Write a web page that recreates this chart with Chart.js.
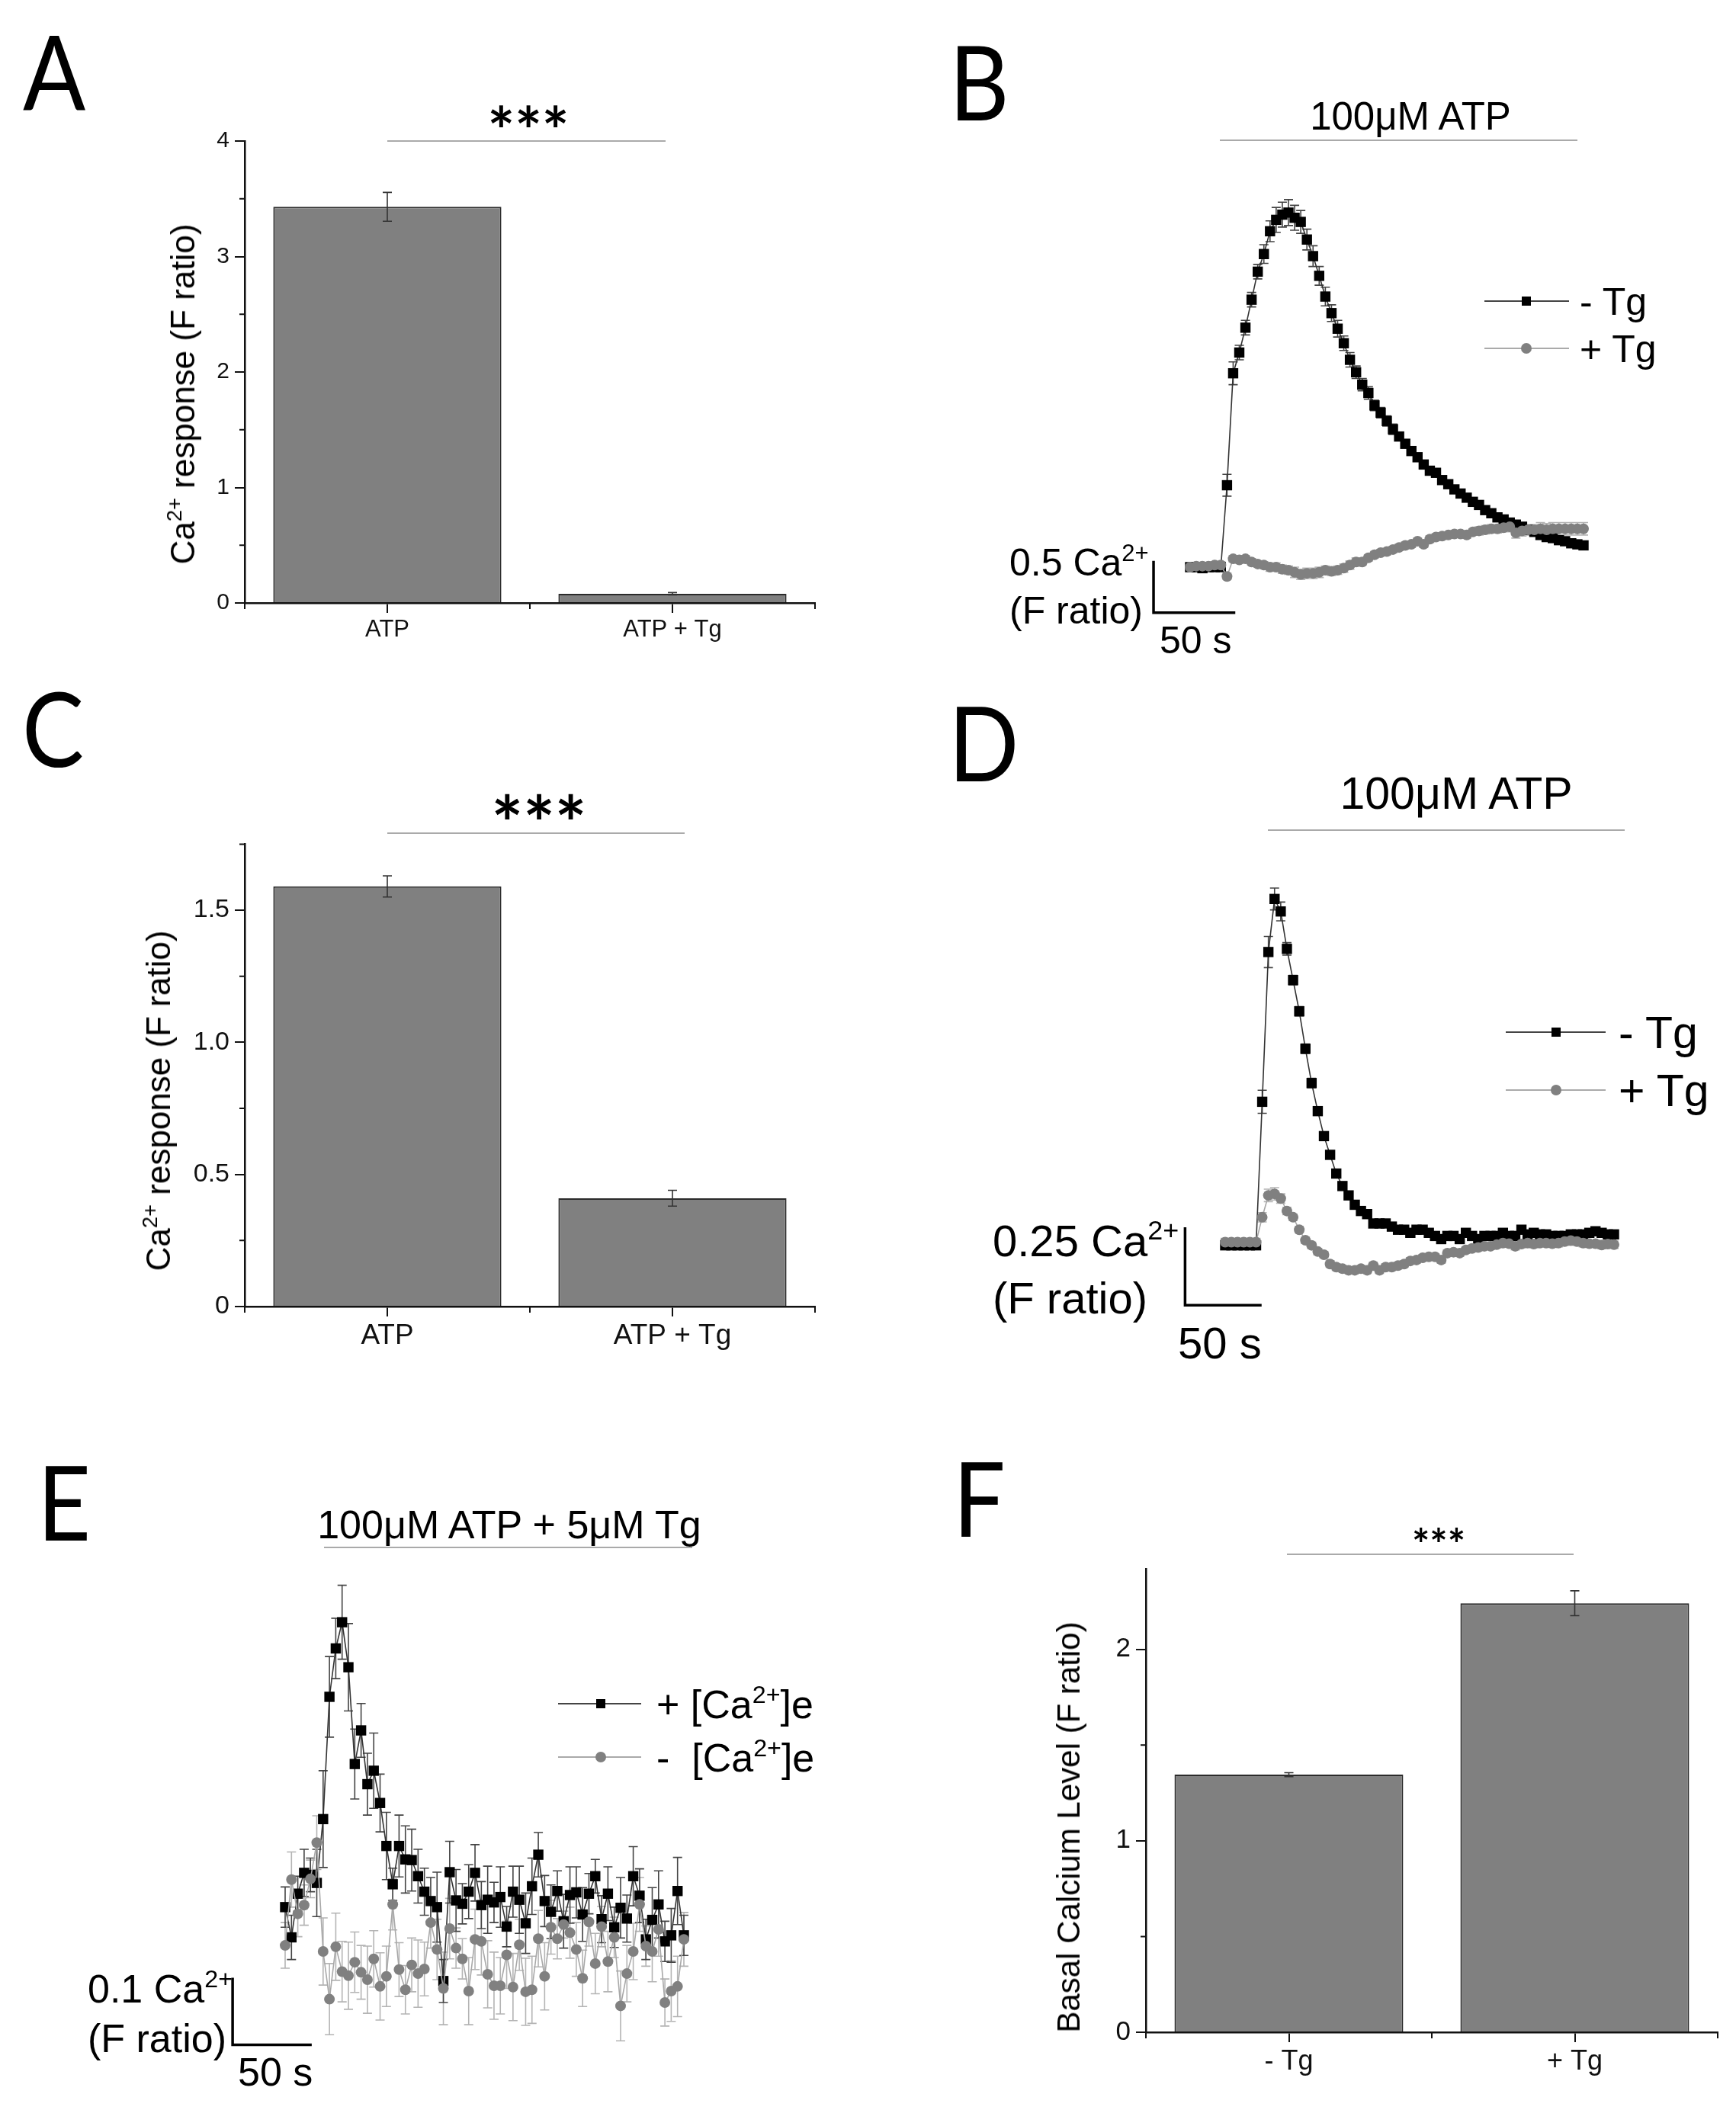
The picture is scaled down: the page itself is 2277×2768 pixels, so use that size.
<!DOCTYPE html>
<html>
<head>
<meta charset="utf-8">
<script src="https://cdn.jsdelivr.net/npm/chart.js@4"></script>
<style>
  html, body { margin: 0; background: #fff; }
  #page { position: relative; width: 2277px; height: 2768px; overflow: hidden; font-family: "Liberation Sans", Arial, sans-serif; color: #000; }
  canvas { position: absolute; }
  .t { position: absolute; white-space: pre; line-height: 1; }
  .t sup { font-size: .62em; line-height: 0; vertical-align: .62em; }
  .rule { position: absolute; height: 2px; background: #aaa; }
</style>
</head>
<body>
<div id="page"></div>
<script>
// bar panels
const catsAtp = ["ATP", "ATP + Tg"];
const catsTg = ["- Tg", "+ Tg"];
const valsA = [3.43, 0.08];
const errsA = [0.125, 0.01];
const valsC = [1.59, 0.41];
const errsC = [0.04, 0.03];
const valsF = [1.345, 2.24];
const errsF = [0.01, 0.065];
const minorA = [0.5, 1.5, 2.5, 3.5];
const minorC = [0.25, 0.75, 1.25, 1.75];
const minorF = [0.5, 1.5];

// panel B traces, F ratio above baseline
const bNoTg = [0, 0, -0.01, 0, 0, 0, 0.79, 1.87, 2.07, 2.31, 2.58, 2.85, 3.02, 3.24, 3.35, 3.40, 3.42, 3.37, 3.33, 3.16, 3.00, 2.81, 2.61, 2.45, 2.30, 2.16, 2.00, 1.88, 1.76, 1.68, 1.56, 1.49, 1.41, 1.33, 1.26, 1.19, 1.12, 1.06, 0.99, 0.93, 0.91, 0.84, 0.80, 0.75, 0.71, 0.67, 0.63, 0.60, 0.55, 0.52, 0.48, 0.46, 0.43, 0.41, 0.39, 0.36, 0.34, 0.31, 0.29, 0.28, 0.26, 0.25, 0.23, 0.22, 0.21];
const bTg = [0, 0.01, 0.01, 0.01, 0.02, 0.02, -0.09, 0.08, 0.07, 0.08, 0.05, 0.03, 0.02, 0, 0, -0.02, -0.03, -0.05, -0.07, -0.06, -0.06, -0.05, -0.03, -0.04, -0.03, -0.01, 0.02, 0.05, 0.05, 0.09, 0.12, 0.14, 0.15, 0.17, 0.19, 0.21, 0.22, 0.25, 0.22, 0.27, 0.29, 0.30, 0.31, 0.32, 0.32, 0.31, 0.34, 0.35, 0.36, 0.37, 0.37, 0.38, 0.39, 0.33, 0.35, 0.36, 0.36, 0.37, 0.36, 0.37, 0.37, 0.37, 0.37, 0.37, 0.37];
const bNoTgErr = [0.02, 0.02, 0.02, 0.02, 0.02, 0.02, 0.105, 0.11, 0.07, 0.07, 0.07, 0.07, 0.09, 0.10, 0.12, 0.12, 0.125, 0.12, 0.11, 0.10, 0.10, 0.09, 0.09, 0.08, 0.08, 0.07, 0.07, 0.06, 0.06, 0.06, 0.05, 0.05, 0.05, 0.05, 0.04, 0.04, 0.04, 0.04, 0.04, 0.04, 0.03, 0.03, 0.03, 0.03, 0.03, 0.03, 0.03, 0.03, 0.03, 0.03, 0.03, 0.03, 0.03, 0.03, 0.03, 0.03, 0.03, 0.03, 0.03, 0.03, 0.03, 0.03, 0.03, 0.03, 0.03];
const bTgErr = [0.03, 0.03, 0.03, 0.03, 0.03, 0.03, 0.03, 0.03, 0.03, 0.03, 0.03, 0.03, 0.03, 0.04, 0.04, 0.04, 0.04, 0.05, 0.05, 0.05, 0.05, 0.05, 0.04, 0.04, 0.04, 0.04, 0.04, 0.04, 0.03, 0.03, 0.03, 0.03, 0.03, 0.03, 0.03, 0.03, 0.03, 0.03, 0.03, 0.03, 0.03, 0.03, 0.03, 0.03, 0.03, 0.03, 0.03, 0.04, 0.04, 0.04, 0.04, 0.04, 0.05, 0.05, 0.05, 0.05, 0.05, 0.06, 0.06, 0.06, 0.06, 0.06, 0.06, 0.06, 0.06];

// panel D traces
const dNoTg = [0, 0, 0, 0, 0, 0, 0.46, 0.94, 1.11, 1.07, 0.95, 0.85, 0.75, 0.63, 0.52, 0.43, 0.35, 0.29, 0.23, 0.19, 0.16, 0.13, 0.11, 0.10, 0.07, 0.07, 0.07, 0.06, 0.05, 0.05, 0.04, 0.05, 0.05, 0.04, 0.03, 0.02, 0.03, 0.03, 0.02, 0.04, 0.03, 0.02, 0.03, 0.03, 0.03, 0.04, 0.03, 0.03, 0.05, 0.035, 0.04, 0.035, 0.035, 0.03, 0.03, 0.03, 0.035, 0.035, 0.035, 0.04, 0.045, 0.04, 0.035, 0.035];
const dTg = [0.01, 0.01, 0.01, 0.01, 0.01, 0.01, 0.09, 0.16, 0.165, 0.15, 0.11, 0.09, 0.05, 0.016, 0, -0.02, -0.03, -0.06, -0.07, -0.075, -0.08, -0.08, -0.075, -0.08, -0.065, -0.08, -0.07, -0.07, -0.065, -0.06, -0.05, -0.047, -0.04, -0.037, -0.037, -0.047, -0.025, -0.022, -0.025, -0.015, -0.01, -0.007, -0.003, -0.003, 0.002, 0.007, 0.005, -0.003, 0.004, 0.007, 0.004, 0.007, 0.007, 0.005, 0.007, 0.012, 0.015, 0.012, 0.007, 0.005, 0.005, 0.001, 0.004, 0.002];
const dNoTgErr = [0.012, 0.012, 0.012, 0.012, 0.012, 0.012, 0.037, 0.05, 0.035, 0.03, 0.02, 0.015, 0.015, 0.015, 0.015, 0.012, 0.012, 0.012, 0.012, 0.01, 0.01, 0.01, 0.01, 0.01, 0.01, 0.01, 0.01, 0.01, 0.01, 0.01, 0.01, 0.01, 0.01, 0.01, 0.01, 0.01, 0.01, 0.01, 0.01, 0.01, 0.01, 0.01, 0.01, 0.01, 0.01, 0.01, 0.01, 0.012, 0.012, 0.012, 0.012, 0.012, 0.012, 0.012, 0.012, 0.012, 0.012, 0.012, 0.012, 0.012, 0.012, 0.012, 0.012, 0.012];
const dTgErr = [0.012, 0.012, 0.012, 0.012, 0.012, 0.012, 0.015, 0.02, 0.02, 0.015, 0.012, 0.01, 0.01, 0.01, 0.01, 0.01, 0.01, 0.01, 0.01, 0.01, 0.01, 0.01, 0.01, 0.01, 0.01, 0.01, 0.01, 0.01, 0.01, 0.01, 0.01, 0.01, 0.01, 0.01, 0.01, 0.01, 0.01, 0.01, 0.01, 0.01, 0.01, 0.01, 0.01, 0.01, 0.01, 0.01, 0.01, 0.012, 0.012, 0.012, 0.012, 0.012, 0.012, 0.012, 0.012, 0.012, 0.012, 0.012, 0.012, 0.012, 0.012, 0.012, 0.012, 0.012];

// panel E traces
const eCa = [0.068, 0.023, 0.088, 0.119, 0.116, 0.104, 0.199, 0.381, 0.453, 0.492, 0.425, 0.281, 0.331, 0.251, 0.271, 0.223, 0.159, 0.102, 0.159, 0.139, 0.138, 0.114, 0.091, 0.077, 0.068, -0.042, 0.120, 0.078, 0.073, 0.091, 0.119, 0.071, 0.079, 0.075, 0.083, 0.039, 0.091, 0.079, 0.044, 0.099, 0.146, 0.077, 0.061, 0.092, 0.047, 0.086, 0.090, 0.057, 0.088, 0.114, 0.050, 0.088, 0.038, 0.067, 0.051, 0.114, 0.085, 0.020, 0.049, 0.072, 0.017, 0.026, 0.092, 0.026];
const eNoCa = [0.011, 0.109, 0.058, 0.071, 0.110, 0.164, 0.002, -0.069, 0.009, -0.028, -0.034, -0.014, -0.029, -0.040, -0.009, -0.050, -0.035, 0.072, -0.025, -0.055, -0.018, -0.031, -0.024, 0.045, 0.005, -0.053, 0.036, 0.007, -0.009, -0.057, 0.020, 0.017, -0.032, -0.049, -0.049, -0.003, -0.051, 0.012, -0.058, -0.055, 0.021, -0.035, 0.038, 0.021, 0.042, 0.030, 0.005, -0.038, 0.046, -0.016, 0.039, -0.013, 0.023, -0.079, -0.031, 0.002, 0.072, 0.010, 0.002, 0.035, -0.074, -0.057, -0.050, 0.020];
const eCaErr = [0.03, 0.033, 0.026, 0.035, 0.025, 0.05, 0.072, 0.06, 0.045, 0.055, 0.065, 0.052, 0.04, 0.046, 0.056, 0.043, 0.05, 0.024, 0.046, 0.05, 0.046, 0.04, 0.035, 0.035, 0.052, 0.032, 0.046, 0.046, 0.03, 0.04, 0.042, 0.035, 0.05, 0.03, 0.045, 0.03, 0.038, 0.05, 0.045, 0.042, 0.033, 0.038, 0.04, 0.03, 0.04, 0.042, 0.038, 0.04, 0.03, 0.025, 0.035, 0.04, 0.03, 0.045, 0.035, 0.044, 0.04, 0.03, 0.048, 0.05, 0.03, 0.04, 0.05, 0.03];
const eNoCaErr = [0.034, 0.041, 0.034, 0.03, 0.028, 0.04, 0.05, 0.053, 0.05, 0.045, 0.05, 0.045, 0.04, 0.05, 0.042, 0.05, 0.045, 0.038, 0.04, 0.036, 0.04, 0.05, 0.04, 0.038, 0.045, 0.054, 0.045, 0.03, 0.03, 0.05, 0.045, 0.05, 0.05, 0.05, 0.042, 0.05, 0.05, 0.038, 0.05, 0.05, 0.042, 0.05, 0.04, 0.03, 0.02, 0.038, 0.04, 0.042, 0.036, 0.045, 0.03, 0.045, 0.03, 0.052, 0.042, 0.042, 0.04, 0.03, 0.045, 0.04, 0.035, 0.045, 0.045, 0.04];

const page = document.getElementById("page");

const marks = {
  id: "marks",
  beforeDatasetsDraw(chart) {
    if (chart.config.type === "line") drawErrs(chart);
  },
  afterDatasetsDraw(chart) {
    if (chart.config.type === "bar") drawErrs(chart);
  },
  afterDraw(chart, args, opts) {
    const c = chart.ctx, { x, y } = chart.scales;
    c.save();
    c.strokeStyle = "#111";
    c.lineWidth = 2;
    if (opts.minor) {
      // minor ticks
      c.beginPath();
      opts.minor.forEach(v => {
        const py = y.getPixelForValue(v);
        c.moveTo(x.left, py);
        c.lineTo(x.left - 7, py);
      });
      const mid = (x.getPixelForValue(0) + x.getPixelForValue(1)) / 2;
      [x.left, mid, x.right].forEach(px => {
        c.moveTo(px, y.bottom);
        c.lineTo(px, y.bottom + 8);
      });
      c.stroke();
    }
    if (opts.bar) {
      // calibration bars
      const b = opts.bar;
      c.lineWidth = 3.5;
      c.strokeStyle = "#000";
      c.beginPath();
      c.moveTo(x.getPixelForValue(b.x), y.getPixelForValue(b.y + b.dy));
      c.lineTo(x.getPixelForValue(b.x), y.getPixelForValue(b.y));
      c.lineTo(x.getPixelForValue(b.x + b.dx), y.getPixelForValue(b.y));
      c.stroke();
    }
    c.restore();
  }
};

function drawErrs(chart) {
  const c = chart.ctx, y = chart.scales.y;
  c.save();
  chart.data.datasets.forEach((ds, k) => {
    const pts = chart.getDatasetMeta(k).data;
    c.strokeStyle = ds.errColor;
    c.lineWidth = 1.6;
    c.beginPath();
    ds.errs.forEach((e, i) => {
      const px = pts[i].x;
      const v = chart.config.type === "bar" ? ds.data[i] : ds.data[i].y;
      const hi = y.getPixelForValue(v + e), lo = y.getPixelForValue(v - e);
      c.moveTo(px, hi); c.lineTo(px, lo);
      c.moveTo(px - 6, hi); c.lineTo(px + 6, hi);
      c.moveTo(px - 6, lo); c.lineTo(px + 6, lo);
    });
    c.stroke();
  });
  c.restore();
}

// box = canvas on the page [x, y, w, h], area = plot area in page px [x0, y0, x1, y1]
function makeCanvas(box) {
  const cv = document.createElement("canvas");
  cv.width = box[2];
  cv.height = box[3];
  cv.style.left = box[0] + "px";
  cv.style.top = box[1] + "px";
  page.appendChild(cv);
  return cv;
}

function barPanel(box, area, cats, vals, errs, yMax, step, minor, sizeX, sizeY) {
  new Chart(makeCanvas(box), {
    type: "bar",
    data: {
      labels: cats,
      datasets: [{
        data: vals,
        errs: errs,
        errColor: "#333",
        backgroundColor: "#808080",
        borderColor: "#2b2b2b",
        borderWidth: 2,
        barPercentage: 0.8,
        categoryPercentage: 1
      }]
    },
    plugins: [marks],
    options: {
      responsive: false,
      animation: false,
      devicePixelRatio: 1,
      layout: { padding: { left: 0, bottom: 0, top: area[1] - box[1], right: box[0] + box[2] - area[2] } },
      plugins: { legend: { display: false }, tooltip: { enabled: false }, marks: { minor } },
      scales: {
        x: {
          afterFit: s => { s.height = box[1] + box[3] - area[3]; },
          border: { color: "#111", width: 2.5 },
          grid: { offset: false, drawOnChartArea: false, color: "#111", lineWidth: 2, tickLength: 13 },
          ticks: { color: "#111", padding: 4, maxRotation: 0, autoSkip: false, font: { family: "Liberation Sans", size: sizeX } }
        },
        y: {
          min: 0,
          max: yMax,
          afterFit: s => { s.width = area[0] - box[0]; },
          border: { color: "#111", width: 2.5 },
          grid: { drawOnChartArea: false, color: "#111", lineWidth: 2, tickLength: 13 },
          ticks: { stepSize: step, includeBounds: false, color: "#111", padding: 7, font: { family: "Liberation Sans", size: sizeY } }
        }
      }
    }
  });
}

function tracePanel(box, area, black, gray, blackErr, grayErr, yMin, yMax, bar) {
  const pts = arr => arr.map((v, i) => ({ x: i, y: v }));
  new Chart(makeCanvas(box), {
    type: "line",
    data: {
      datasets: [
        {
          data: pts(gray), errs: grayErr, errColor: "#b4b4b4", order: 1, clip: false,
          borderColor: "#a8a8a8", borderWidth: 1.6, tension: 0,
          pointStyle: "circle", pointRadius: 7, pointBackgroundColor: "#808080", pointBorderWidth: 0
        },
        {
          data: pts(black), errs: blackErr, errColor: "#444", order: 2, clip: false,
          borderColor: "#333", borderWidth: 1.6, tension: 0,
          pointStyle: "rect", pointRadius: 9.5, pointBackgroundColor: "#000", pointBorderWidth: 0
        }
      ]
    },
    plugins: [marks],
    options: {
      responsive: false,
      animation: false,
      devicePixelRatio: 1,
      layout: { padding: { left: area[0] - box[0], top: area[1] - box[1], right: box[0] + box[2] - area[2], bottom: box[1] + box[3] - area[3] } },
      plugins: { legend: { display: false }, tooltip: { enabled: false }, marks: { bar } },
      scales: {
        x: { type: "linear", display: false, min: 0, max: black.length - 1 },
        y: { display: false, min: yMin, max: yMax }
      }
    }
  });
}

barPanel([230, 160, 860, 720], [321, 181, 1069, 791], catsAtp, valsA, errsA, 4, 1, minorA, 31, 30);
barPanel([230, 1080, 860, 720], [321, 1105, 1069, 1714], catsAtp, valsC, errsC, 1.75, 0.5, minorC, 37, 34);
barPanel([1420, 2030, 850, 720], [1503, 2057, 2253, 2666], catsTg, valsF, errsF, 2.42, 1, minorF, 36, 35);

tracePanel([1290, 240, 800, 640], [1561, 268, 2077, 812], bNoTg, bTg, bNoTgErr, bTgErr, -0.5, 3.5,
  { x: -5.95, y: -0.44, dx: 13.3, dy: 0.5 });
tracePanel([1250, 1090, 900, 760], [1607, 1122, 2117, 1736], dNoTg, dTg, dNoTgErr, dTgErr, -0.25, 1.25,
  { x: -6.5, y: -0.192, dx: 12.4, dy: 0.25 });
tracePanel([100, 2050, 880, 700], [374, 2077, 897, 2694], eCa, eNoCa, eCaErr, eNoCaErr, -0.15, 0.55,
  { x: -8.3, y: -0.137, dx: 12.5, dy: 0.1 });

// text on the page
function label(html, x, y, size, align, family, weight) {
  const d = document.createElement("div");
  d.className = "t";
  d.innerHTML = html;
  d.style.left = x + "px";
  d.style.top = y + "px";
  d.style.fontSize = size + "px";
  if (family) d.style.fontFamily = family;
  if (weight) d.style.fontWeight = weight;
  if (align === "letter") d.style.transformOrigin = "0 50%";
  d.style.transform = align === "center" ? "translate(-50%,-50%)"
    : align === "rot" ? "translate(-50%,-50%) rotate(-90deg)"
    : align === "letter" ? "translateY(-50%) scaleX(.9)" : "translateY(-50%)";
  page.appendChild(d);
}

function rule(x0, x1, y) {
  const d = document.createElement("div");
  d.className = "rule";
  d.style.left = x0 + "px";
  d.style.width = (x1 - x0) + "px";
  d.style.top = y + "px";
  page.appendChild(d);
}

function legendRow(x0, x1, xm, y, color, lineColor, round, html, xt, size) {
  const line = document.createElement("div");
  line.className = "rule";
  line.style.cssText = `left:${x0}px;width:${x1 - x0}px;top:${y - 1}px;background:${lineColor}`;
  page.appendChild(line);
  const s = round ? 14 : 12;
  const m = document.createElement("div");
  m.style.cssText = `position:absolute;left:${xm - s / 2}px;top:${y - s / 2}px;width:${s}px;height:${s}px;background:${color};border-radius:${round ? "50%" : "0"}`;
  page.appendChild(m);
  label(html, xt, y + 1, size);
}

[["A", 30, 93], ["B", 1245, 106], ["C", 29, 954], ["D", 1244, 973], ["E", 49, 1969], ["F", 1250, 1964]]
  .forEach(p => label(p[0], p[1], p[2], 135, "letter", "Lato"));

label("***", 693, 170, 84, "center", "Lato", 700);
rule(508, 873, 184);
label("***", 707, 1078, 98, "center", "Lato", 700);
rule(508, 898, 1092);
label("***", 1887, 2025, 55, "center", "Lato", 700);
rule(1688, 2064, 2038);

label("100μM ATP", 1850, 152, 51, "center");
rule(1600, 2069, 183);
label("100μM ATP", 1910, 1041, 59, "center");
rule(1663, 2131, 1088);
label("100μM ATP + 5μM Tg", 668, 2000, 52, "center");
rule(425, 908, 2029);

label("Ca<sup>2+</sup> response (F ratio)", 240, 517, 44, "rot");
label("Ca<sup>2+</sup> response (F ratio)", 208, 1444, 44, "rot");
label("Basal Calcium Level (F ratio)", 1402, 2397, 42, "rot");

label("0.5 Ca<sup>2+</sup>", 1324, 738, 50);
label("(F ratio)", 1324, 801, 50);
label("50 s", 1521, 840, 50);
label("0.25 Ca<sup>2+</sup>", 1302, 1628, 58);
label("(F ratio)", 1302, 1703, 58);
label("50 s", 1545, 1762, 58);
label("0.1 Ca<sup>2+</sup>", 115, 2609, 52);
label("(F ratio)", 115, 2674, 52);
label("50 s", 312, 2718, 52);

legendRow(1947, 2058, 2002, 395, "#000", "#444", false, "- Tg", 2072, 50);
legendRow(1947, 2058, 2002, 457, "#808080", "#aaa", true, "+ Tg", 2072, 50);
legendRow(1975, 2106, 2041, 1354, "#000", "#444", false, "- Tg", 2123, 59);
legendRow(1975, 2106, 2041, 1430, "#808080", "#aaa", true, "+ Tg", 2123, 59);
legendRow(732, 841, 788, 2235, "#000", "#444", false, "+ [Ca<sup>2+</sup>]e", 861, 52);
legendRow(732, 841, 788, 2305, "#808080", "#aaa", true, "-  [Ca<sup>2+</sup>]e", 861, 52);
</script>
</body>
</html>
